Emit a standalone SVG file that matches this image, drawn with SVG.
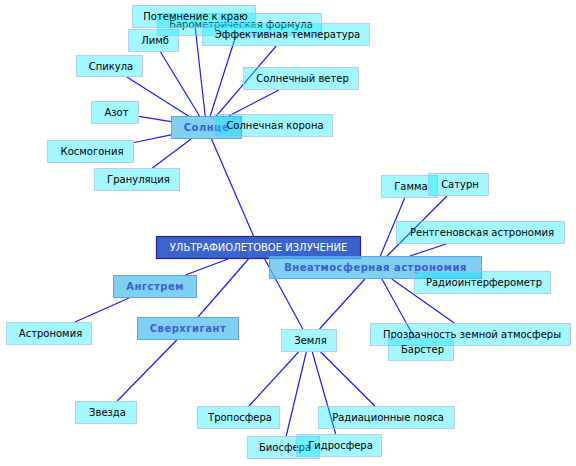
<svg xmlns="http://www.w3.org/2000/svg" width="576" height="466" viewBox="0 0 576 466">
<style>
  .leaf rect { fill: #00eaff; fill-opacity: 0.36; stroke: #aabdf5; stroke-opacity: 0.75; stroke-width: 1; }
  .cat rect { fill: #55c0f0; fill-opacity: 0.75; stroke: #5aa8e8; stroke-width: 1; }
  .main rect { fill: #3a64cc; stroke: #2c1c98; stroke-width: 1.2; }
  text { font-family: "DejaVu Sans", Verdana, sans-serif; font-size: 10px; text-anchor: middle; }
  .leaf text { fill: #000; }
  .cat text { fill: #3b5fc8; font-weight: bold; letter-spacing: 0.5px; }
  .main text { fill: #fff; }
  #connectors line { stroke: #1a1aff; stroke-width: 1.2; }
</style>
<rect width="576" height="466" fill="#fff"/>
<g id="connectors">
  <line x1="126.9" y1="77" x2="188.4" y2="116"/>
  <line x1="139" y1="116.4" x2="171" y2="121.7"/>
  <line x1="134" y1="142.5" x2="171" y2="134.8"/>
  <line x1="152.4" y1="168" x2="191.1" y2="139"/>
  <line x1="160.5" y1="52" x2="199.5" y2="116"/>
  <line x1="195.3" y1="28" x2="205.2" y2="116"/>
  <line x1="235.8" y1="36" x2="210.2" y2="116"/>
  <line x1="276.2" y1="46" x2="216.3" y2="116"/>
  <line x1="278.8" y1="90" x2="228.7" y2="116"/>
  <line x1="211.5" y1="139" x2="253.5" y2="236"/>
  <line x1="228" y1="259" x2="185.5" y2="275"/>
  <line x1="248.5" y1="259" x2="198" y2="317"/>
  <line x1="264.7" y1="259" x2="302.8" y2="329"/>
  <line x1="129" y1="298" x2="75" y2="322"/>
  <line x1="176.8" y1="340" x2="117.2" y2="401"/>
  <line x1="365" y1="279" x2="319.5" y2="329"/>
  <line x1="380.3" y1="256" x2="404.7" y2="198"/>
  <line x1="387" y1="256" x2="447" y2="196"/>
  <line x1="410" y1="256" x2="446" y2="244"/>
  <line x1="391.8" y1="279" x2="454.2" y2="323"/>
  <line x1="381.9" y1="279" x2="414.6" y2="338"/>
  <line x1="298.5" y1="352" x2="249" y2="406"/>
  <line x1="306.3" y1="352" x2="286.2" y2="436"/>
  <line x1="312.3" y1="352" x2="335.7" y2="434"/>
  <line x1="320.6" y1="352" x2="374.9" y2="406"/>
</g>
<g id="uv" class="main"><rect x="156.5" y="236.5" width="204" height="22"/><text x="258.5" y="251">УЛЬТРАФИОЛЕТОВОЕ ИЗЛУЧЕНИЕ</text></g>
<g id="sun" class="cat"><rect x="171.5" y="116.5" width="70" height="22"/><text x="206.5" y="131">Солнце</text></g>
<g id="extra" class="cat"><rect x="269.5" y="256.5" width="212" height="22"/><text x="375.5" y="271">Внеатмосферная астрономия</text></g>
<g id="angstrem" class="cat"><rect x="113.5" y="275.5" width="83" height="22"/><text x="155" y="290">Ангстрем</text></g>
<g id="supergiant" class="cat"><rect x="137.5" y="317.5" width="101" height="22"/><text x="188" y="332">Сверхгигант</text></g>
<g id="astronomy" class="leaf"><rect x="6.5" y="322.5" width="85" height="22"/><text x="50.5" y="337">Астрономия</text></g>
<g id="star" class="leaf"><rect x="75.5" y="401.5" width="61" height="22"/><text x="107.5" y="416">Звезда</text></g>
<g id="earth" class="leaf"><rect x="281.5" y="329.5" width="55" height="22"/><text x="310.5" y="344">Земля</text></g>
<g id="troposphere" class="leaf"><rect x="197.5" y="406.5" width="82" height="22"/><text x="240" y="421">Тропосфера</text></g>
<g id="biosphere" class="leaf"><rect x="247.5" y="436.5" width="72" height="22"/><text x="285" y="451">Биосфера</text></g>
<g id="hydrosphere" class="leaf"><rect x="296.5" y="434.5" width="85" height="22"/><text x="340.5" y="449">Гидросфера</text></g>
<g id="radbelts" class="leaf"><rect x="318.5" y="406.5" width="136" height="22"/><text x="388" y="421">Радиационные пояса</text></g>
<g id="gamma" class="leaf"><rect x="381.5" y="175.5" width="56" height="22"/><text x="411" y="190">Гамма</text></g>
<g id="saturn" class="leaf"><rect x="428.5" y="173.5" width="60" height="22"/><text x="460" y="188">Сатурн</text></g>
<g id="xray" class="leaf"><rect x="396.5" y="221.5" width="168" height="22"/><text x="482" y="236">Рентгеновская астрономия</text></g>
<g id="radiointerf" class="leaf"><rect x="414.5" y="271.5" width="136" height="22"/><text x="484" y="286">Радиоинтерферометр</text></g>
<g id="transparency" class="leaf"><rect x="370.5" y="323.5" width="200" height="22"/><text x="472" y="338">Прозрачность земной атмосферы</text></g>
<g id="burster" class="leaf"><rect x="388.5" y="338.5" width="65" height="22"/><text x="422.5" y="353">Барстер</text></g>
<g id="spicule" class="leaf"><rect x="76.5" y="55.5" width="66" height="21"/><text x="111" y="70">Спикула</text></g>
<g id="nitrogen" class="leaf"><rect x="91.5" y="101.5" width="47" height="22"/><text x="116.5" y="116">Азот</text></g>
<g id="cosmogony" class="leaf"><rect x="47.5" y="140.5" width="86" height="22"/><text x="92" y="155">Космогония</text></g>
<g id="granulation" class="leaf"><rect x="94.5" y="168.5" width="85" height="22"/><text x="138.5" y="183">Грануляция</text></g>
<g id="limb" class="leaf"><rect x="128.5" y="29.5" width="50" height="22"/><text x="155" y="44">Лимб</text></g>
<g id="barometric" class="leaf"><rect x="157.5" y="13.5" width="164" height="22"/><text x="241" y="28">Барометрическая формула</text></g>
<g id="darkening" class="leaf"><rect x="132.5" y="5.5" width="123" height="22"/><text x="195.5" y="20">Потемнение к краю</text></g>
<g id="efftemp" class="leaf"><rect x="202.5" y="23.5" width="167" height="22"/><text x="287.5" y="38">Эффективная температура</text></g>
<g id="solarwind" class="leaf"><rect x="243.5" y="67.5" width="115" height="22"/><text x="302.5" y="82">Солнечный ветер</text></g>
<g id="corona" class="leaf"><rect x="214.5" y="114.5" width="118" height="22"/><text x="275" y="129">Солнечная корона</text></g>
</svg>
